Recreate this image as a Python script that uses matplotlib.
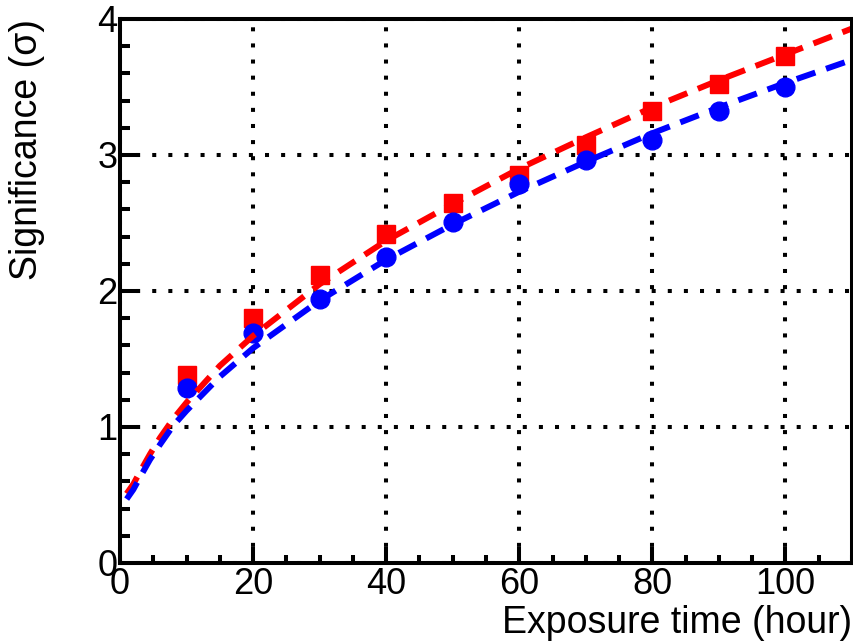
import matplotlib
matplotlib.use("Agg")
import matplotlib.pyplot as plt
from matplotlib.ticker import MultipleLocator

plt.rcParams['font.family'] = ['Liberation Sans', 'DejaVu Sans']

hours = [10, 20, 30, 40, 50, 60, 70, 80, 90, 100]
red_sig = [1.38, 1.80, 2.12, 2.42, 2.65, 2.85, 3.07, 3.32, 3.52, 3.73]
blue_sig = [1.29, 1.69, 1.94, 2.25, 2.51, 2.79, 2.96, 3.11, 3.32, 3.50]

fit_x = [1, 2, 3, 4.5, 6, 8, 10, 15, 20, 30, 40, 50, 60, 70, 80, 90, 100, 110]
red_fit = [0.51, 0.58, 0.67, 0.80, 0.92, 1.06, 1.18, 1.45, 1.67, 2.05, 2.37, 2.64, 2.90, 3.13, 3.35, 3.55, 3.74, 3.93]
blue_fit = [0.47, 0.54, 0.63, 0.76, 0.87, 1.01, 1.12, 1.37, 1.58, 1.93, 2.23, 2.49, 2.73, 2.95, 3.16, 3.35, 3.53, 3.70]

x_label = "Exposure time (hour)"
y_label = "Significance (\u03c3)"

fig = plt.figure(figsize=(8.54, 6.43), dpi=100)
ax = fig.add_axes([120/854, 80/643, 732/854, 544/643])

ax.set_xlim(0, 110)
ax.set_ylim(0, 4)

grid_kw = dict(color='black', linewidth=2.9, linestyle=(0, (1, 3.0)), dash_capstyle='butt', zorder=1)
ax.xaxis.set_major_locator(MultipleLocator(20))
ax.xaxis.set_minor_locator(MultipleLocator(5))
ax.yaxis.set_major_locator(MultipleLocator(1))
ax.yaxis.set_minor_locator(MultipleLocator(0.2))
ax.grid(True, which='major', **grid_kw)

ax.plot(hours, red_sig, linestyle='none', marker='s', markersize=13.5, color='#ff0000', zorder=3)
ax.plot(hours, blue_sig, linestyle='none', marker='o', markersize=13.5, color='#0000ff', zorder=3)
ax.plot(fit_x, red_fit, color='#ff0000', linewidth=4.3, linestyle=(0, (3.3, 1.9)), zorder=4)
ax.plot(fit_x, blue_fit, color='#0000ff', linewidth=4.3, linestyle=(0, (3.3, 1.9)), zorder=4)

for s in ax.spines.values():
    s.set_linewidth(2.9)
    s.set_zorder(5)

ax.tick_params(axis='both', which='both', direction='in', top=False, right=False,
               width=2.9, labelsize=26)
ax.tick_params(axis='y', which='major', length=14.5, pad=2)
ax.tick_params(axis='y', which='minor', length=7)
ax.tick_params(axis='x', which='major', length=11.5, pad=3)
ax.tick_params(axis='x', which='minor', length=6)

ax.set_xlabel(x_label, fontsize=27, loc='right')
ax.xaxis.set_label_coords(1.0, -0.077)
ax.xaxis.label.set_va('top')
ax.set_ylabel(y_label, fontsize=27, loc='top')
ax.yaxis.set_label_coords(-0.1025, 1.0)

fig.savefig("out.png", dpi=100)
